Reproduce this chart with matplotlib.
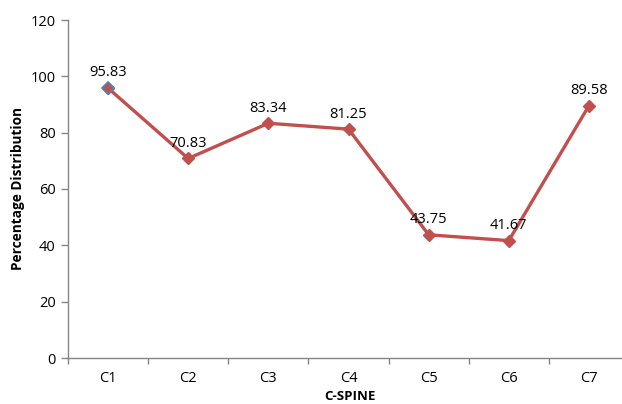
import matplotlib
matplotlib.use("Agg")
import matplotlib.pyplot as plt
from matplotlib.ticker import FixedLocator

categories = ["C1", "C2", "C3", "C4", "C5", "C6", "C7"]
values = [95.83, 70.83, 83.34, 81.25, 43.75, 41.67, 89.58]
labels = ["95.83", "70.83", "83.34", "81.25", "43.75", "41.67", "89.58"]
yticks = [0, 20, 40, 60, 80, 100, 120]

plt.rcParams['font.family'] = ['Open Sans', 'DejaVu Sans']

fig = plt.figure(figsize=(6.22, 4.04), dpi=100)
ax = fig.add_axes([68/622, 1-358/404, (629-68)/622, (358-20)/404])

red = '#C0504D'
x = list(range(len(categories)))
ax.plot(x, values, color=red, linewidth=2.4, marker='D', markersize=6.5,
        markerfacecolor=red, markeredgecolor=red, zorder=3)
ax.plot(x[:1], values[:1], linestyle='none', marker='D', markersize=6.5,
        markerfacecolor=red, markeredgecolor='#4F81BD', markeredgewidth=1.2, zorder=4)

for xi, v, lab in zip(x, values, labels):
    ax.annotate(lab, (xi, v), xytext=(0, 5.5), textcoords='offset points',
                ha='center', va='bottom', fontsize=10.5, color='black')

ax.set_xlim(-0.5, len(categories) - 0.5)
ax.set_ylim(0, 120)
ax.set_yticks(yticks)
ax.set_xticks(x)
ax.set_xticklabels(categories)
ax.xaxis.set_minor_locator(FixedLocator([i - 0.5 for i in range(len(categories) + 1)]))
ax.tick_params(axis='x', which='major', length=0, pad=9, labelsize=10.5)
ax.tick_params(axis='x', which='minor', length=4, color='#868686', width=1)
ax.tick_params(axis='y', length=5, color='#868686', width=1, labelsize=10.5, pad=4)

for s in ['top', 'right']:
    ax.spines[s].set_visible(False)
for s in ['left', 'bottom']:
    ax.spines[s].set_color('#868686')
    ax.spines[s].set_linewidth(1)

ax.set_xlabel('C-SPINE', fontsize=9.5, fontweight='bold')
ax.set_ylabel('Percentage Distribution', fontsize=9.8, fontweight='bold', labelpad=4)
ax.xaxis.set_label_coords((350-68)/(629-68), -(390-358)/(358-20))

fig.savefig('out.png', dpi=100)
